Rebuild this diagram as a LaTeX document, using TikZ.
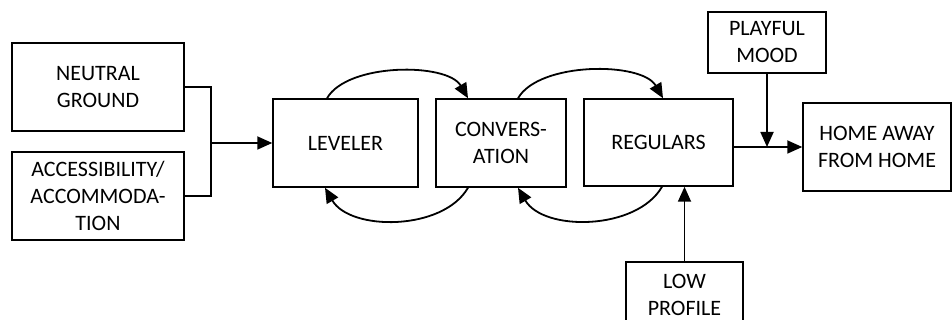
\documentclass[tikz,border=0pt]{standalone}
\usepackage{fontspec}
\setmainfont{Carlito}
\usetikzlibrary{arrows.meta}

\begin{document}
\begin{tikzpicture}
[x=1pt,y=1pt,line width=1.5pt]
\tikzstyle{every node}=[draw,align=center,inner sep=2pt,font=\fontsize{22}{27}\selectfont]
\tikzstyle{arr}=[-{Triangle[length=15pt,width=13pt]},line width=1.8pt]
\useasboundingbox (0,0) rectangle (952,-320);
\node[minimum width=172,minimum height=88] (neutral) at (98,-87) {NEUTRAL\\GROUND};
\node[minimum width=172,minimum height=88] (access) at (98,-196) {ACCESSIBILITY/\\ACCOMMODA-\\TION};
\node[minimum width=145,minimum height=88] (leveler) at (345.5,-143) {LEVELER};
\node[minimum width=130,minimum height=88] (conv) at (501,-143) {CONVERS-\\ATION};
\node[minimum width=149,minimum height=87] (regulars) at (658.5,-142.5) {REGULARS};
\node[minimum width=148,minimum height=88] (home) at (877,-147) {HOME AWAY\\FROM HOME};
\node[minimum width=118,minimum height=61] (playful) at (767,-42.5) {PLAYFUL\\MOOD};
\node[minimum width=117,minimum height=66] (lowprof) at (684.5,-295) {LOW\\PROFILE};
% bracket into leveler
\coordinate (brk) at (211,-143);
\draw[line width=1.8pt] (neutral.east) -| (brk) |- (access.east);
\draw[arr] (brk) -- (leveler.west);
% loops
\draw[arr] ([xshift=-18.5pt]leveler.north) to[out=60,in=120,looseness=0.75] ([xshift=-33pt]conv.north);
\draw[arr] ([xshift=-33pt]conv.south) to[out=-120,in=-60,looseness=0.9] ([xshift=-20.5pt]leveler.south);
\draw[arr] ([xshift=17pt]conv.north) to[out=60,in=120,looseness=0.75] ([xshift=4.5pt]regulars.north);
\draw[arr] ([xshift=3.5pt]regulars.south) to[out=-120,in=-60,looseness=0.9] ([xshift=17pt]conv.south);
% outcome
\draw[arr] (home.west -| regulars.east) -- (home.west);
\draw[arr] (playful.south) -- (playful.south |- home.west);
\draw[arr] (lowprof.north) -- (lowprof.north |- regulars.south);
\end{tikzpicture}
\end{document}
